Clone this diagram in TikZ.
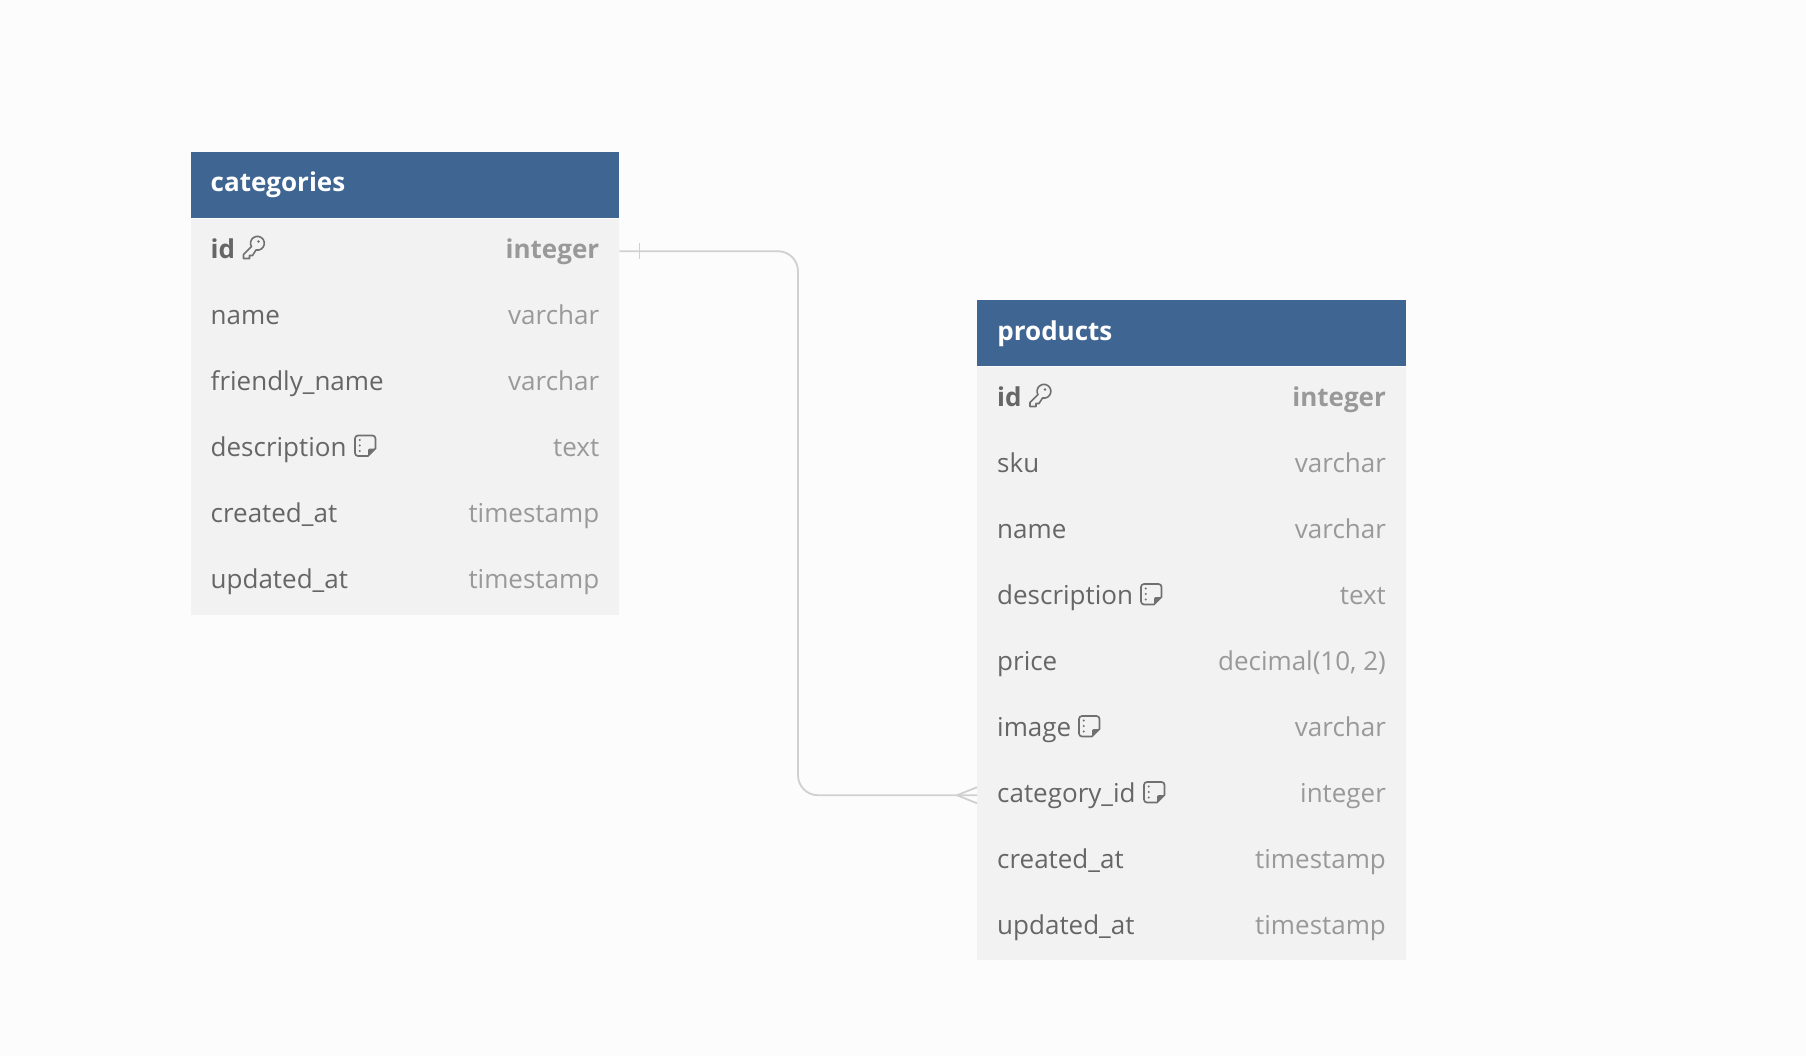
\documentclass[tikz,border=0pt]{standalone}
\usepackage{fontspec}
\setmainfont{Open Sans}
\definecolor{headblue}{HTML}{3F6593}
\definecolor{rowgray}{HTML}{F2F2F2}
\definecolor{pagegray}{HTML}{FCFCFC}
\definecolor{fieldtext}{HTML}{666666}
\definecolor{icontext}{HTML}{707070}
\definecolor{typetext}{HTML}{999999}
\definecolor{linkgray}{HTML}{D0D0D0}
\tikzset{
  headbox/.style={fill=headblue,inner sep=0pt,minimum width=428.7pt,minimum height=66pt},
  bodybox/.style={fill=rowgray,inner sep=0pt,minimum width=428.7pt},
  rowbox/.style={inner sep=0pt,minimum width=428.7pt,minimum height=66.1pt},
  headtext/.style={white,font=\fontsize{26}{30}\selectfont\bfseries,inner sep=0pt,anchor=base west},
  fieldname/.style={fieldtext,font=\fontsize{26}{30}\selectfont,inner sep=0pt,anchor=base west},
  fieldtype/.style={typetext,font=\fontsize{26}{30}\selectfont,inner sep=0pt,anchor=base east},
  link/.style={linkgray,line width=1.8pt},
  pics/noteicon/.style={code={
    \draw[icontext,line width=1.7pt,line join=round] (3,0) -- (17.5,0) arc (-90:0:3) -- (20.5,13) -- (13,20.5) -- (3,20.5) arc (90:180:3) -- (0,3) arc (180:270:3) -- cycle;
    \fill[icontext] (20.5,13) -- (13,20.5) -- (13,15) arc (180:270:2) -- cycle;
    \foreach \d in {4.5,10,15.5} \fill[icontext] (4.7,\d) circle (1.2pt);
  }},
  pics/keyicon/.style={code={
    \draw[icontext,line width=1.6pt,line join=round] (8.5,9.5) -- (0.5,17.5) -- (0.5,21.5) -- (6.5,21.5) -- (6.5,18.5) -- (9.5,18.5) -- (13,13) arc (102:-210:6.9) -- cycle;
    \fill[icontext] (15.5,4.5) circle (1.4pt);
  }},
}
\begin{document}
\begin{tikzpicture}[x=1pt,y=-1pt]
\useasboundingbox (0,0) rectangle (1806,1056);
\fill[pagegray] (0,0) rectangle (1806,1056);
% categories
\node[headbox,anchor=north west] (cathead) at (190.3,152) {};
\node[bodybox,anchor=north west,minimum height=396pt] (catbody) at (cathead.south west) {};
\node[headtext] (cattitle) at ([shift={(20.2,6.8)}]cathead.west) {categories};
\foreach \f/\t [count=\i from 0] in {name/varchar,friendly\_name/varchar,description/text,created\_at/timestamp,updated\_at/timestamp}{
  \node[rowbox,anchor=north west] (catrow\i) at (190.3,{284+66*\i}) {};
  \node[fieldname] (catfield\i) at ([shift={(20.2,7.4)}]catrow\i.west) {\f};
  \node[fieldtype] (cattype\i) at ([shift={(-20,7.4)}]catrow\i.east) {\t};
}
\node[rowbox,anchor=north west] (catid) at (190.3,218) {};
\node[fieldname,font=\fontsize{26}{30}\selectfont\bfseries] (catidname) at ([shift={(20.2,7.4)}]catid.west) {id};
\node[fieldtype,font=\fontsize{26}{30}\selectfont\bfseries] (catidtype) at ([shift={(-20,7.4)}]catid.east) {integer};
\pic at (243,237) {keyicon};
\pic at (355,435.5) {noteicon};
% products
\node[headbox,anchor=north west] (prodhead) at (977,300) {};
\node[bodybox,anchor=north west,minimum height=593.7pt] (prodbody) at (prodhead.south west) {};
\node[headtext] (prodtitle) at ([shift={(20.2,7.8)}]prodhead.west) {products};
\foreach \f/\t [count=\i from 0] in {sku/varchar,name/varchar,description/text,price/{decimal(10, 2)},image/varchar,category\_id/integer,created\_at/timestamp,updated\_at/timestamp}{
  \node[rowbox,anchor=north west] (prodrow\i) at (977,{431.5+66.1*\i}) {};
  \node[fieldname] (prodfield\i) at ([shift={(20,7.4)}]prodrow\i.west) {\f};
  \node[fieldtype] (prodtype\i) at ([shift={(-20,7.4)}]prodrow\i.east) {\t};
}
\node[rowbox,anchor=north west] (prodid) at (977,365.4) {};
\node[fieldname,font=\fontsize{26}{30}\selectfont\bfseries] (prodidname) at ([shift={(20,7.4)}]prodid.west) {id};
\node[fieldtype,font=\fontsize{26}{30}\selectfont\bfseries] (prodidtype) at ([shift={(-20,7.4)}]prodid.east) {integer};
\pic at (1029.5,385) {keyicon};
\pic at (1141,584) {noteicon};
\pic at (1079,716) {noteicon};
\pic at (1144,782) {noteicon};
% relation
\coordinate (bend) at (798,0);
\draw[link,rounded corners=20pt] (catid.east) -- (bend |- catid.east) -- (bend |- prodrow5.west) -- (prodrow5.west);
\draw[link] ([shift={(20,-8)}]catid.east) -- ([shift={(20,8)}]catid.east);
\draw[link] ([shift={(-20,0)}]prodrow5.west) -- ([shift={(0,-8)}]prodrow5.west);
\draw[link] ([shift={(-20,0)}]prodrow5.west) -- ([shift={(0,8)}]prodrow5.west);
\end{tikzpicture}
\end{document}
